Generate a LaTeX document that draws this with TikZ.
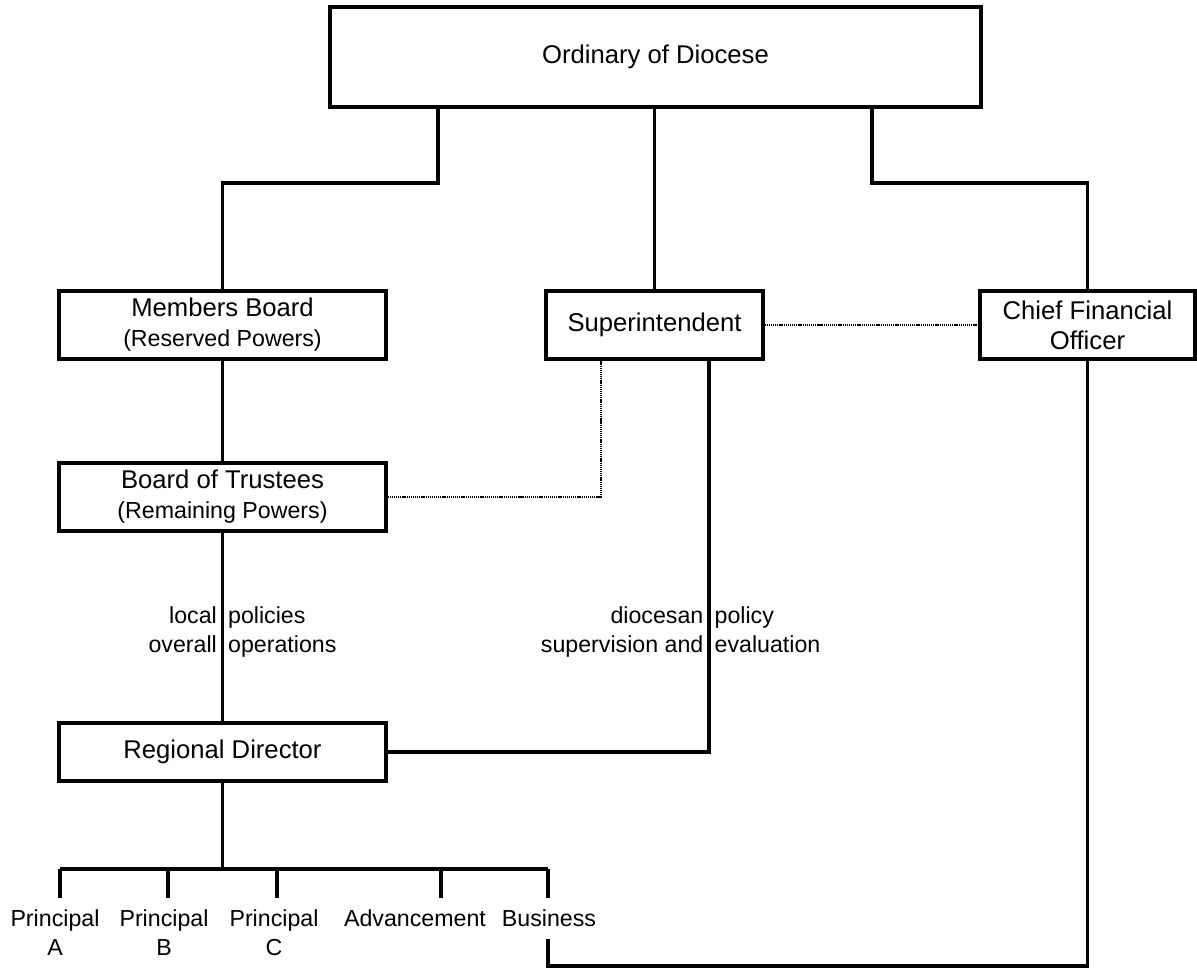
\documentclass[tikz,border=0pt]{standalone}
\usepackage{fontspec}
\setmainfont{Liberation Sans}
\usetikzlibrary{calc}
\newcommand{\mainsize}{\fontsize{14.6pt}{17pt}\selectfont}
\newcommand{\subsize}{\fontsize{13.2pt}{16.4pt}\selectfont}
\tikzset{
  orgbox/.style={draw, line width=1.8pt, align=center, inner sep=2pt, font=\mainsize},
  link/.style={line width=1.8pt},
  dotlink/.style={line width=1.4pt, black, dash pattern=on 0.7pt off 0.5pt},
  lbl/.style={font=\subsize, inner sep=3pt}
}

\begin{document}
\begin{tikzpicture}[x=0.02cm, y=-0.02cm]
  \useasboundingbox (0,0) rectangle (1197,969);

  \node [orgbox, minimum width=13.02cm, minimum height=2cm] (ordinary) at (655.5,57) {Ordinary of Diocese};

  \begin{scope}[every node/.style={orgbox, minimum height=1.36cm}]
    \node [minimum width=6.54cm] (members) at (222.5,325) {Members Board\\\subsize(Reserved Powers)};
    \node [minimum width=4.34cm] (super) at (654.5,325) {Superintendent};
    \node [minimum width=4.3cm] (cfo) at (1087.5,325) {Chief Financial\\Officer};
    \node [minimum width=6.54cm] (trustees) at (222.5,497) {Board of Trustees\\\subsize(Remaining Powers)};
    \node [minimum width=6.54cm, minimum height=1.16cm] (regional) at (222.5,752) {Regional Director};
  \end{scope}

  % top level
  \coordinate (ol) at (438,183);
  \coordinate (or) at (872,183);
  \draw [link] (ordinary.south -| ol) -- (ol) -| (members.north);
  \draw [link] (ordinary.south -| super.north) -- (super.north);
  \draw [link] (ordinary.south -| or) -- (or) -| (cfo.north);

  % advisory links
  \coordinate (sdot) at (601,497);
  \draw [dotlink] (super) -- (cfo);
  \draw [dotlink] (trustees.east) -- (sdot) -- (sdot |- super.south);

  \draw [link] (members) -- (trustees);
  \draw [link] (trustees) -- (regional);
  \coordinate (sturn) at (709,752);
  \draw [link] (super.south -| sturn) -- (sturn) -- (regional.east);

  \node [lbl, anchor=east, align=right] (localL) at (222.5,632) {\strut local\\\strut overall};
  \node [lbl, anchor=west, align=left] (localR) at (222.5,632) {\strut policies\\\strut operations};
  \node [lbl, anchor=east, align=right] (dioL) at (709,632) {\strut diocesan\\\strut supervision and};
  \node [lbl, anchor=west, align=left] (dioR) at (709,632) {\strut policy\\\strut evaluation};

  % school level
  \begin{scope}[every node/.style={lbl, anchor=north, align=center, inner xsep=1pt, inner ysep=6.5pt}]
    \node (pa) at (55,898) {Principal\\A};
    \node (pb) at (164,898) {Principal\\B};
    \node (pc) at (274,898) {Principal\\C};
    \node (adv) at (415,898) {Advancement};
    \node (biz) at (549,898) {Business};
  \end{scope}

  \foreach \n/\x in {pa/60, pb/168, pc/277, adv/441, biz/548}
    \coordinate (t\n) at (\x,869);
  \draw [link] (tpa) -- (tbiz);
  \draw [link] (regional.south) -- (regional.south |- tpa);
  \foreach \n in {pa, pb, pc, adv, biz}
    \draw [link] (t\n) -- (t\n |- \n.north);

  \coordinate (bturn) at (548,966);
  \draw [link] (biz.south -| bturn) -- (bturn) -| (cfo.south);
\end{tikzpicture}
\end{document}
